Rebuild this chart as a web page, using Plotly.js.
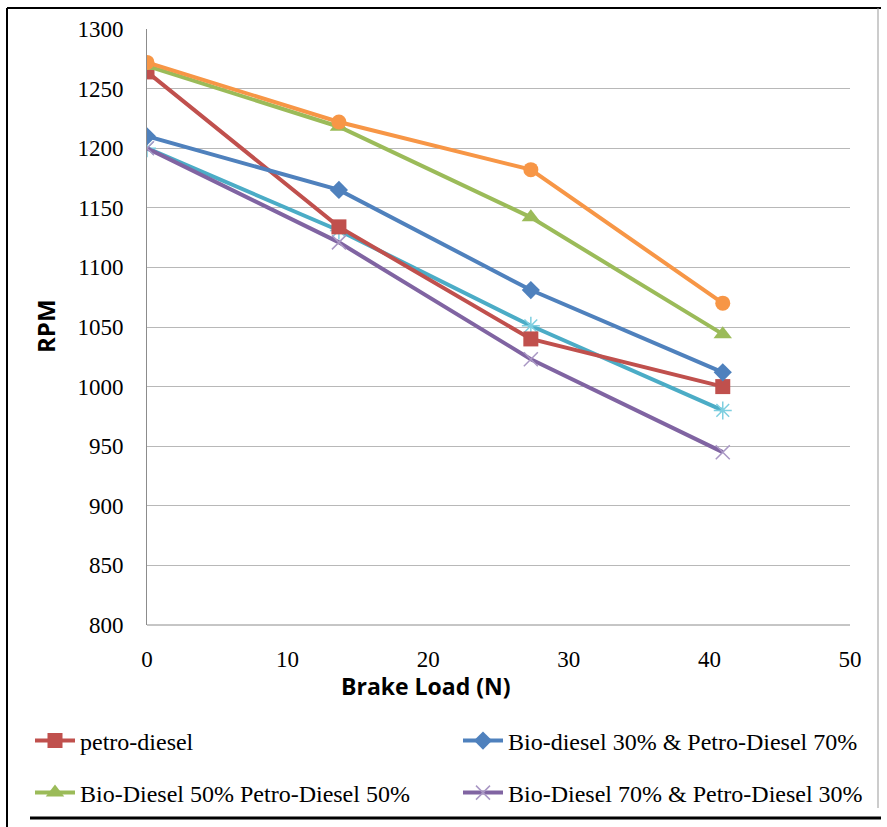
<!DOCTYPE html>
<html>
<head>
<meta charset="utf-8">
<script src="https://cdn.plot.ly/plotly-3.0.1.min.js"></script>
<style>html,body{margin:0;padding:0;background:#fff;}#chart{width:887px;height:827px;}</style>
</head>
<body>
<div id="chart"></div>
<script>
const brakeLoad = [0, 13.65, 27.3, 40.95];
const petroDiesel = [1264, 1134, 1040, 1000];
const bio30 = [1210, 1165, 1081, 1012];
const bio50 = [1269, 1218, 1142, 1044];
const bio70 = [1200, 1121, 1023, 945];
const cyanSeries = [1200, 1131, 1051, 980];
const orangeSeries = [1272, 1222, 1182, 1070];
const names = ["petro-diesel", "Bio-diesel 30% & Petro-Diesel 70%", "Bio-Diesel 50% Petro-Diesel 50%", "Bio-Diesel 70% & Petro-Diesel 30%"];
const yTicks = [800, 850, 900, 950, 1000, 1050, 1100, 1150, 1200, 1250, 1300];
const xTicks = [0, 10, 20, 30, 40, 50];
const xTitle = 'Brake Load (N)';
const yTitle = 'RPM';
const SERIF = "'Liberation Serif', 'Times New Roman', 'DejaVu Serif', serif";

function tr(y, name, color, symbol, size, legend, show, mcolor) {
  return {
    x: brakeLoad, y: y, name: name, type: 'scatter', mode: 'lines+markers',
    line: {color: color, width: 4},
    marker: {symbol: symbol, size: size, color: mcolor || color, line: {color: mcolor || color, width: (symbol.indexOf('open')>=0)?1.5:0}},
    legend: legend, showlegend: show
  };
}
const data = [
  tr(cyanSeries, 'cyan', '#4BACC6', 'asterisk-open', 15, 'legend', false, '#7ECFE0'),
  tr(bio70, names[3], '#8064A2', 'x-thin-open', 14, 'legend4', true, '#A997C4'),
  tr(petroDiesel, names[0], '#C0504D', 'square', 15, 'legend', true),
  tr(bio30, names[1], '#4F81BD', 'diamond', 14, 'legend2', true),
  tr(bio50, names[2], '#9BBB59', 'triangle-up', 16, 'legend3', true),
  tr(orangeSeries, 'orange', '#F79646', 'circle', 15, 'legend', false)
];
const W = 703, H = 596;
function px(p){return (p-147)/W;}
function py(p){return (625-p)/H;}
function leg(xp, yp) {
  return {
    xref: 'container', yref: 'container',
    x: xp/887, y: 1 - yp/827, xanchor: 'left', yanchor: 'middle',
    orientation: 'h',
    font: {family: SERIF, size: 24, color: '#000'},
    bgcolor: 'rgba(0,0,0,0)', itemwidth: 40
  };
}
const layout = {
  width: 887, height: 827,
  margin: {l: 147, r: 37, t: 29, b: 202},
  paper_bgcolor: '#fff', plot_bgcolor: '#fff',
  font: {family: SERIF, color: '#000', size: 19},
  xaxis: {
    range: [0, 50], tickvals: xTicks, ticktext: xTicks.map(String),
    showgrid: false, zeroline: false, showline: false,
    ticks: '', ticklen: 0, ticklabelstandoff: 18,
    tickfont: {family: SERIF, size: 23, color: '#000'}
  },
  yaxis: {
    range: [800, 1300], tickvals: yTicks, ticktext: yTicks.map(String),
    showgrid: true, gridcolor: '#b8b8b8', gridwidth: 1, zeroline: false,
    showline: true, linecolor: '#8c8c8c', linewidth: 1,
    ticks: '', ticklen: 0, ticklabelstandoff: 18,
    tickfont: {family: SERIF, size: 23, color: '#000'}
  },
  annotations: [
    {text: xTitle, xref: 'paper', yref: 'paper', x: px(426), y: py(686), xanchor: 'center', yanchor: 'middle', showarrow: false,
     font: {family: 'Open Sans, sans-serif', size: 23, color: '#000', weight: 'bold'}},
    {text: yTitle, xref: 'paper', yref: 'paper', x: px(45), y: py(326), xanchor: 'center', yanchor: 'middle', showarrow: false, textangle: -90,
     font: {family: 'Open Sans, sans-serif', size: 24, color: '#000', weight: 'bold'}}
  ],
  showlegend: true,
  legend: leg(30, 741),
  legend2: leg(458, 741),
  legend3: leg(30, 793),
  legend4: leg(458, 793),
  shapes: [
    {type: 'line', xref: 'paper', yref: 'paper', x0: 0, x1: 1, y0: 0, y1: 0, line: {color: '#8c8c8c', width: 1}},
    {type: 'line', xref: 'paper', yref: 'paper', x0: px(7), x1: px(7), y0: py(8), y1: py(827), line: {color: '#000', width: 2}},
    {type: 'line', xref: 'paper', yref: 'paper', x0: px(7), x1: px(881), y0: py(8), y1: py(8), line: {color: '#000', width: 2}},
    {type: 'line', xref: 'paper', yref: 'paper', x0: px(878), x1: px(878), y0: py(8), y1: py(808), line: {color: '#999', width: 1}},
    {type: 'line', xref: 'paper', yref: 'paper', x0: px(30), x1: px(881), y0: py(818), y1: py(818), line: {color: '#000', width: 3}}
  ]
};
Plotly.newPlot('chart', data, layout, {staticPlot: true});
</script>
</body>
</html>
